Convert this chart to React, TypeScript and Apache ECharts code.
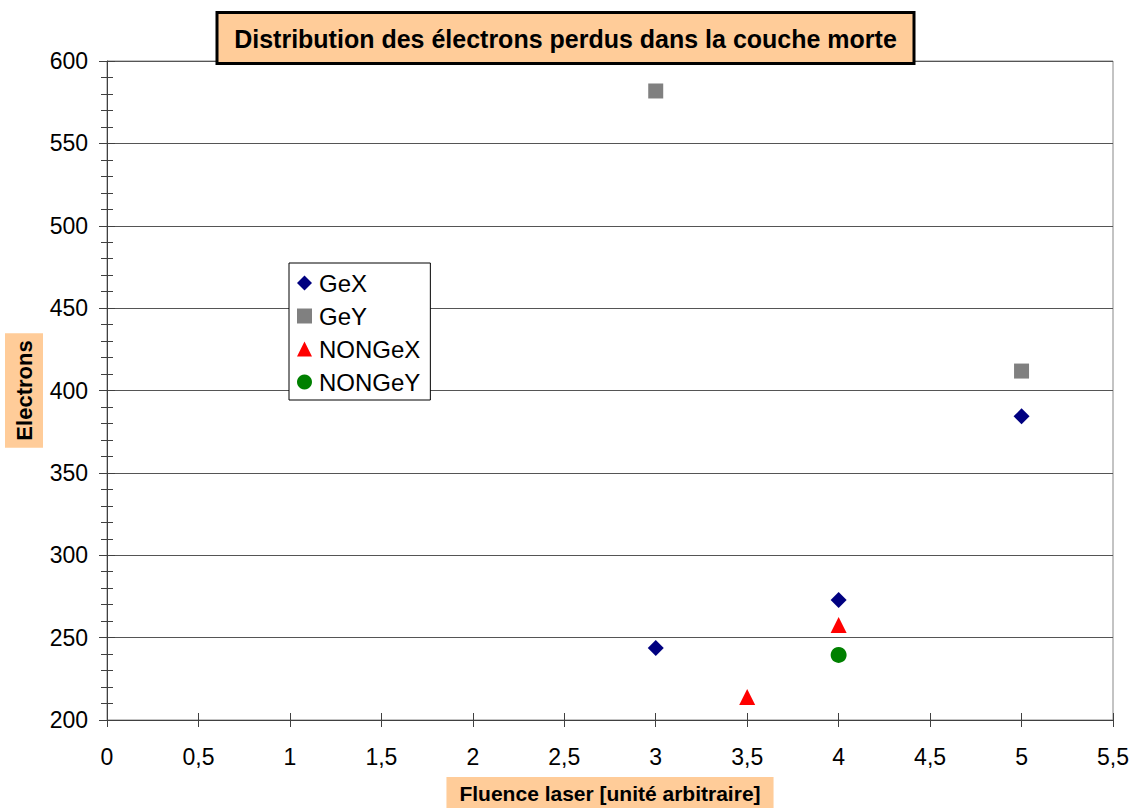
import React, { useEffect, useRef } from "react";
import * as echarts from "echarts";

const titleText = "Distribution des électrons perdus dans la couche morte";
const xAxisName = "Fluence laser [unité arbitraire]";
const yAxisName = "Electrons";

const seriesNames = ["GeX", "GeY", "NONGeX", "NONGeY"];
const seriesColors = ["#000080", "#808080", "#FF0000", "#008000"];
const seriesSymbols = ["diamond", "rect", "triangle", "circle"];
const seriesSizes = [16, 15, 16, 16];

const gexData = [
  [3, 243.7],
  [4, 272.8],
  [5, 384.3],
];
const geyData = [
  [3, 581.8],
  [5, 411.8],
];
const nongexData = [
  [3.5, 214],
  [4, 257.6],
];
const nongeyData = [[4, 239.5]];

const xMin = 0;
const xMax = 5.5;
const xStep = 0.5;
const yMin = 200;
const yMax = 600;
const yStep = 50;

const FONT = "Arial, 'Liberation Sans', sans-serif";

export default function App() {
  const ref = useRef<HTMLDivElement>(null);

  useEffect(() => {
    if (!ref.current) return;
    const chart = echarts.init(ref.current, undefined, { renderer: "svg" });
    const allData = [gexData, geyData, nongexData, nongeyData];

    const baseX = {
      type: "value",
      min: xMin,
      max: xMax,
      interval: xStep,
    };
    const baseY = {
      type: "value",
      min: yMin,
      max: yMax,
      interval: yStep,
    };

    chart.setOption({
      animation: false,
      backgroundColor: "#ffffff",
      textStyle: { fontFamily: FONT },
      title: {
        text: titleText,
        left: "center",
        top: 12,
        backgroundColor: "#FFCC99",
        borderColor: "#000000",
        borderWidth: 3,
        padding: [14, 17, 13, 17],
        textStyle: {
          fontFamily: FONT,
          fontSize: 25,
          fontWeight: "bold",
          color: "#000000",
        },
      },
      legend: {
        orient: "vertical",
        left: 289,
        top: 263,
        backgroundColor: "#ffffff",
        borderColor: "#000000",
        borderWidth: 1,
        padding: [8, 10, 6, 8],
        itemGap: 9,
        itemWidth: 15,
        itemHeight: 15,
        textStyle: { fontFamily: FONT, fontSize: 24, color: "#000000", padding: [0, 0, 0, 2] },
        data: seriesNames,
      },
      grid: {
        left: 107,
        top: 61,
        right: 18,
        bottom: 88,
        outerBoundsMode: "none",
        containLabel: false,
        show: true,
        borderColor: "#888888",
        borderWidth: 1,
        backgroundColor: "#ffffff",
      },
      xAxis: [
        {
          ...baseX,
          position: "bottom",
          name: xAxisName,
          nameLocation: "middle",
          nameGap: 57,
          nameTextStyle: {
            fontFamily: FONT,
            fontSize: 21,
            fontWeight: "bold",
            color: "#000000",
            backgroundColor: "#FFCC99",
            padding: [6, 13, 6, 13],
            verticalAlign: "top",
          },
          axisLine: { show: true, lineStyle: { color: "#404040", width: 1 } },
          axisTick: { show: true, length: 7, lineStyle: { color: "#404040" } },
          axisLabel: {
            fontFamily: FONT,
            fontSize: 23,
            color: "#000000",
            margin: 25,
            formatter: (v: number) => String(v).replace(".", ","),
          },
          splitLine: { show: false },
        },
        {
          ...baseX,
          position: "bottom",
          axisLine: { show: false },
          axisTick: { show: true, inside: true, length: 7, lineStyle: { color: "#404040" } },
          axisLabel: { show: false },
          splitLine: { show: false },
        },
      ],
      yAxis: [
        {
          ...baseY,
          position: "left",
          name: yAxisName,
          nameLocation: "middle",
          nameRotate: 90,
          nameGap: 64,
          nameMoveOverlap: false,
          nameTextStyle: {
            fontFamily: FONT,
            fontSize: 22,
            fontWeight: "bold",
            color: "#000000",
            backgroundColor: "#FFCC99",
            padding: [8, 7, 8, 7],
          },
          axisLine: { show: true, lineStyle: { color: "#404040", width: 1 } },
          axisTick: { show: true, length: 8, lineStyle: { color: "#404040" } },
          minorTick: { show: true, splitNumber: 5, length: 6, lineStyle: { color: "#404040" } },
          axisLabel: { fontFamily: FONT, fontSize: 23, color: "#000000", margin: 19 },
          splitLine: { show: true, lineStyle: { color: "#555555", width: 1 } },
        },
        {
          ...baseY,
          position: "left",
          axisLine: { show: false },
          axisTick: { show: true, inside: true, length: 8, lineStyle: { color: "#404040" } },
          minorTick: { show: true, splitNumber: 5, length: 6, lineStyle: { color: "#404040" } },
          axisLabel: { show: false },
          splitLine: { show: false },
        },
      ],
      series: seriesNames.map((name, i) => ({
        name,
        type: "scatter",
        xAxisIndex: 0,
        yAxisIndex: 0,
        symbol: seriesSymbols[i],
        symbolSize: seriesSizes[i],
        itemStyle: { color: seriesColors[i], opacity: 1 },
        data: allData[i],
      })),
    });

    return () => chart.dispose();
  }, []);

  return (
    <div
      ref={ref}
      style={{ position: "fixed", left: 0, top: 0, width: 1131, height: 808 }}
    />
  );
}
